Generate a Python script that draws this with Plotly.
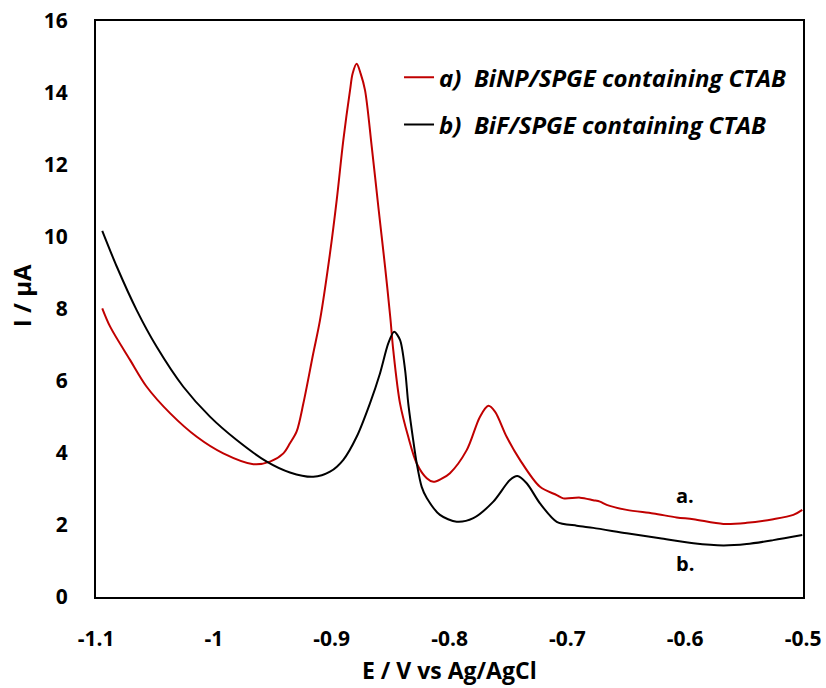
import plotly.graph_objects as go

# Series a) BiNP/SPGE containing CTAB
E_a = [-1.0947, -1.088, -1.071, -1.057, -1.037, -1.0145, -0.992, -0.9665, -0.9523, -0.941,
       -0.9354, -0.9297, -0.924, -0.9156, -0.9099, -0.9014, -0.8957, -0.8901, -0.8844,
       -0.8822, -0.8788, -0.8754, -0.8717, -0.866, -0.8604, -0.8547, -0.8502, -0.8477,
       -0.842, -0.835, -0.8278, -0.8193, -0.8137, -0.807, -0.7996, -0.7854, -0.7741,
       -0.767, -0.7614, -0.7515, -0.7402, -0.7232, -0.709, -0.7034, -0.6892, -0.678,
       -0.6723, -0.6666, -0.6496, -0.627, -0.6072, -0.593, -0.5676, -0.5478, -0.5252,
       -0.5082, -0.5006]
I_a = [8.02, 7.51, 6.58, 5.84, 5.10, 4.45, 3.99, 3.69, 3.76, 3.99,
       4.27, 4.6, 5.38, 6.77, 7.69, 9.55, 11.03, 12.69, 14.08,
       14.54, 14.81, 14.54, 14.08, 12.51, 10.84, 9.18, 7.75, 6.85,
       5.38, 4.45, 3.71, 3.30, 3.20, 3.28, 3.44, 4.08, 5.01,
       5.31, 5.15, 4.45, 3.81, 3.06, 2.83, 2.74, 2.76, 2.69,
       2.65, 2.56, 2.42, 2.32, 2.21, 2.16, 2.03, 2.06, 2.16,
       2.28, 2.42]

# Series b) BiF/SPGE containing CTAB
E_b = [-1.0947, -1.0824, -1.0655, -1.0485, -1.0259, -1.0033, -0.9806, -0.9551, -0.9354,
       -0.9156, -0.9014, -0.8901, -0.8788, -0.8675, -0.859, -0.8519, -0.847, -0.842,
       -0.8377, -0.835, -0.8312, -0.8278, -0.8236, -0.8193, -0.8081, -0.7939, -0.7798,
       -0.7628, -0.7487, -0.7424, -0.7345, -0.7232, -0.709, -0.692, -0.678, -0.6496,
       -0.6214, -0.593, -0.5676, -0.5478, -0.5252, -0.5006]
I_b = [10.17, 9.18, 7.97, 6.95, 5.84, 5.01, 4.36, 3.76, 3.46,
       3.34, 3.48, 3.81, 4.45, 5.38, 6.21, 7.05, 7.37, 7.14,
       6.31, 5.38, 4.45, 3.71, 3.06, 2.75, 2.28, 2.09, 2.19,
       2.65, 3.25, 3.36, 3.16, 2.60, 2.09, 1.98, 1.92, 1.77,
       1.63, 1.49, 1.43, 1.47, 1.58, 1.72]

x_tickvals = [-1.1, -1.0, -0.9, -0.8, -0.7, -0.6, -0.5]
x_ticktext = ["-1.1", "-1", "-0.9", "-0.8", "-0.7", "-0.6", "-0.5"]
y_tickvals = [0, 2, 4, 6, 8, 10, 12, 14, 16]

names = ["a)  BiNP/SPGE containing CTAB", "b)  BiF/SPGE containing CTAB"]
curve_labels = ["a.", "b."]
label_pos_x = [-0.6, -0.6]
label_pos_y = [2.83, 0.94]
x_title = "E / V vs Ag/AgCl"
y_title = "I / µA"

FONT = "Open Sans"
RED = "#C00000"

fig = go.Figure()
fig.add_trace(go.Scatter(x=E_a, y=I_a, mode="lines", name=names[0], legendgroup="a",
                         line=dict(color=RED, width=2, shape="spline", smoothing=0.9)))
fig.add_trace(go.Scatter(x=E_b, y=I_b, mode="lines", name=names[1], legendgroup="b",
                         line=dict(color="black", width=2, shape="spline", smoothing=0.8)))

for t, xx, yy in zip(curve_labels, label_pos_x, label_pos_y):
    fig.add_annotation(x=xx, y=yy, text=t, showarrow=False, xanchor="center", yanchor="middle",
                       font=dict(family=FONT, size=20, color="black", weight="bold"))

# axis titles
fig.add_annotation(xref="paper", yref="paper", x=0.5, y=-0.127, text=x_title, showarrow=False,
                   xanchor="center", yanchor="middle",
                   font=dict(family=FONT, size=23, color="black", weight="bold"))
fig.add_annotation(xref="paper", yref="paper", x=-0.1061, y=0.524, text=y_title, showarrow=False,
                   xanchor="center", yanchor="middle", textangle=-90,
                   font=dict(family=FONT, size=24, color="black", weight="bold"))

fig.update_layout(
    width=826, height=688,
    margin=dict(l=96, r=23, t=21, b=91),
    paper_bgcolor="white", plot_bgcolor="white",
    font=dict(family=FONT, color="black"),
    showlegend=True,
    legend=dict(x=0.4286, y=0.9406, xanchor="left", yanchor="top",
                bgcolor="rgba(0,0,0,0)", itemwidth=30, tracegroupgap=13,
                font=dict(family=FONT, size=24, color="black", weight="bold", style="italic")),
    xaxis=dict(range=[-1.1, -0.5], tickvals=x_tickvals, ticktext=x_ticktext, automargin=False,
               showgrid=False, zeroline=False, showline=True, linecolor="black", linewidth=2,
               mirror=True, ticks="", ticklabelstandoff=22,
               tickfont=dict(family=FONT, size=21, color="black", weight="bold")),
    yaxis=dict(range=[0, 16], tickvals=y_tickvals, automargin=False,
               showgrid=False, zeroline=False, showline=True, linecolor="black", linewidth=2,
               mirror=True, ticks="", ticklabelstandoff=22,
               tickfont=dict(family=FONT, size=21, color="black", weight="bold")),
)

fig.write_html("out.html")
